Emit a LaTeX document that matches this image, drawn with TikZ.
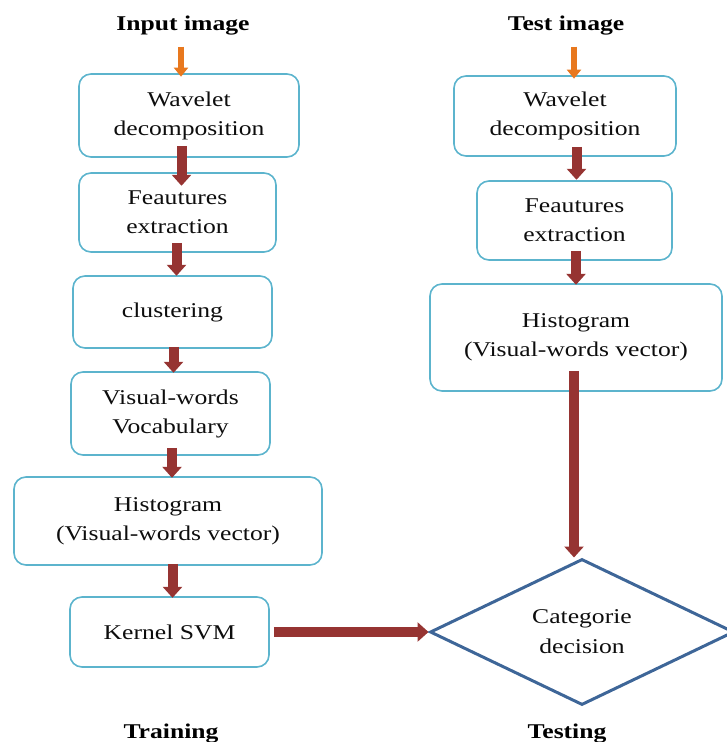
\documentclass[tikz,border=0pt]{standalone}
\usepackage{fontspec}
\setmainfont{Liberation Serif}[FakeStretch=1.22]
\usetikzlibrary{arrows.meta, shapes.geometric}

\definecolor{boxblue}{RGB}{92,180,205}
\definecolor{diablue}{RGB}{62,102,152}
\definecolor{arrowred}{RGB}{150,52,50}
\definecolor{arroworange}{RGB}{232,120,30}

\begin{document}
\begin{tikzpicture}[x = 0.5pt, y = -0.5pt,
		box/.style = {draw = boxblue, line width = 0.8pt, rounded corners = 6pt, align = center, inner sep = 2pt, text = black!95, font = \fontsize{10.5}{14.5}\selectfont},
		decision/.style = {diamond, draw = diablue, line width = 1.5pt, align = center, inner sep = 0pt, aspect = 2.08, text = black!95, font = \fontsize{10.5}{15}\selectfont},
		heading/.style = {font = \fontsize{10.5}{12}\selectfont\bfseries, text = black},
		flow/.style = {-{Triangle[width = 9.5pt, length = 5.5pt]}, line width = 5pt, draw = arrowred},
		feed/.style = {-{Triangle[width = 7pt, length = 4.5pt]}, line width = 3pt, draw = arroworange}]
			\useasboundingbox (0,0) rectangle (726,742);

			\begin{scope}
				\node [heading] (inputT) at (183,26) {Input image};
				\node [box, minimum width = 110pt, minimum height = 41.5pt] (waveL) at (189,115.5) {Wavelet\\decomposition};
				\node [box, minimum width = 98.5pt, minimum height = 39.5pt] (featL) at (177.5,212.5) {Feautures\\extraction};
				\node [box, minimum width = 99.5pt, minimum height = 36pt] (clust) at (172.5,312) {clustering};
				\node [box, minimum width = 99.5pt, minimum height = 41.5pt] (vocab) at (170.5,413.5) {Visual-words\\Vocabulary};
				\node [box, minimum width = 154pt, minimum height = 44pt] (histL) at (168,521) {Histogram\\(Visual-words vector)};
				\node [box, minimum width = 99.5pt, minimum height = 35pt] (svm) at (169.5,632) {Kernel SVM};
				\node [heading] (trainT) at (171,734) {Training};
			\end{scope}

			\begin{scope}
				\node [heading] (testT) at (566,26) {Test image};
				\node [box, minimum width = 111pt, minimum height = 40pt] (waveR) at (565,116) {Wavelet\\decomposition};
				\node [box, minimum width = 97.5pt, minimum height = 39.5pt] (featR) at (574.5,220.5) {Feautures\\extraction};
				\node [box, minimum width = 146pt, minimum height = 53.5pt] (histR) at (576,337.5) {Histogram\\(Visual-words vector)};
				\node [decision, minimum width = 152pt, minimum height = 73pt] (decide) at (582,632) {Categorie\\decision};
				\node [heading] (testingT) at (567,734) {Testing};
			\end{scope}

			\begin{scope}[feed]
				\draw ([yshift = -2pt]inputT.south -| waveL.north) ++(-4pt,0) -- ++(0,-15pt);
				\draw ([yshift = -2pt]testT.south -| waveR.north) ++(4.5pt,0) -- ++(0,-16pt);
			\end{scope}

			\begin{scope}[flow]
				\draw ([yshift = 6pt]waveL.south -| featL.north) ++(2pt,0) -- ++(0,-20pt);
				\draw ([yshift = 5pt]featL.south -| clust.north) ++(2pt,0) -- ++(0,-16.5pt);
				\draw ([yshift = 1pt]clust.south -| vocab.north) ++(1.5pt,0) -- ++(0,-13pt);
				\draw ([yshift = 4pt]vocab.south -| histL.north) ++(2pt,0) -- ++(0,-15pt);
				\draw ([yshift = 1pt]histL.south -| svm.north) ++(1.5pt,0) -- ++(0,-17pt);
				\draw ([yshift = 5pt]waveR.south -| featR.north) ++(1pt,0) -- ++(0,-16.5pt);
				\draw ([yshift = 5pt]featR.south -| histR.north) ++(0pt,0) -- ++(0,-17pt);
				\draw ([yshift = 10.5pt]histR.south -| decide.north) ++(-4pt,0) -- ([xshift = -4pt]decide.north);
				\draw ([xshift = 2pt]svm.east) -- (decide.west);
			\end{scope}
		\end{tikzpicture}
\end{document}
